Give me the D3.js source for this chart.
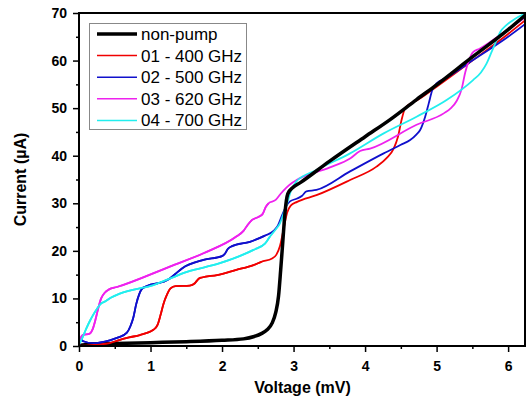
<!DOCTYPE html>
<html>
<head>
<meta charset="utf-8">
<script src="https://cdn.jsdelivr.net/npm/d3@7"></script>
<style>
  body { margin: 0; background: #fff; }
  svg { font-family: Arial, "Liberation Sans", sans-serif; }
</style>
</head>
<body>
<div id="chart"></div>
<script>
/* data: [voltage mV, current uA] */
var nonPump = [[0,0],[0.05,0.2],[0.2,0.4],[0.5,0.5],[1.0,0.7],[1.5,0.9],[2.0,1.2],[2.3,1.5],[2.45,2.0],[2.55,2.6],[2.63,3.4],[2.7,4.8],[2.75,7],[2.79,10.5],[2.82,16],[2.85,22],[2.88,28],[2.92,32],[2.99,33.3],[3.1,34.4],[3.5,38.8],[4.0,44],[4.35,47.6],[4.72,51.8],[5.0,54.9],[5.47,60.4],[6.0,66.5],[6.25,69.7]];
var ghz400 = [[0,0],[0.1,0.1],[0.25,0.3],[0.43,0.6],[0.55,1.2],[0.7,1.8],[0.85,2.3],[1.04,3.4],[1.1,4.5],[1.14,6.5],[1.18,8.8],[1.23,10.8],[1.28,12.1],[1.35,12.6],[1.55,12.7],[1.62,13.2],[1.67,14.1],[1.72,14.4],[1.93,14.9],[2.2,16],[2.44,17],[2.55,17.7],[2.7,18.4],[2.76,19.2],[2.81,21],[2.86,24.5],[2.91,28],[2.96,29.5],[3.05,30.3],[3.32,31.7],[3.79,34.9],[4.16,37.7],[4.3,39.5],[4.4,41.5],[4.46,44],[4.51,47.5],[4.56,50],[4.65,51.1],[4.72,51.6],[5.0,54.5],[5.5,60],[6.0,65.6],[6.25,68.6]];
var ghz500 = [[0,0.3],[0.02,1.4],[0.06,1.0],[0.2,0.6],[0.43,1.2],[0.55,1.8],[0.67,2.8],[0.72,4.2],[0.76,6.0],[0.8,8.8],[0.84,10.8],[0.88,12.0],[0.95,12.6],[1.18,13.5],[1.27,14.2],[1.35,15.2],[1.44,16.3],[1.74,18.1],[2.0,18.9],[2.04,19.4],[2.08,20.4],[2.14,21],[2.39,21.9],[2.6,23.2],[2.72,24.2],[2.78,25.3],[2.84,27.5],[2.9,29.5],[2.95,30.4],[3.05,31],[3.12,31.6],[3.18,32.5],[3.32,32.8],[3.79,36.7],[4.26,40.5],[4.5,42.3],[4.63,43.3],[4.72,44.5],[4.77,45.4],[4.84,48.2],[4.89,51],[4.94,53.8],[5.0,55.2],[5.14,56.4],[5.5,60],[6.0,65],[6.25,67.8]];
var ghz620 = [[0,0],[0.02,1.5],[0.05,2.3],[0.15,2.6],[0.19,3.5],[0.23,5.5],[0.27,8.0],[0.31,10.0],[0.36,11.2],[0.42,11.9],[0.53,12.4],[1.27,16.7],[1.74,19.5],[2.2,23],[2.3,24.2],[2.36,25.5],[2.42,26.5],[2.52,27.2],[2.57,27.8],[2.61,29.2],[2.65,30],[2.75,30.7],[2.82,32],[2.9,33.3],[3.0,34.5],[3.5,37.5],[3.79,39.4],[3.93,41],[4.07,41.5],[4.72,46.5],[5.1,48.9],[5.2,50],[5.28,51.5],[5.35,54],[5.4,57.5],[5.45,60],[5.51,61.8],[5.6,62.5],[6.0,66.6],[6.25,69.2]];
var ghz700 = [[0,0.3],[0.05,1.8],[0.1,3.6],[0.15,5.2],[0.2,6.6],[0.25,7.8],[0.3,8.8],[0.37,9.4],[0.45,10.2],[0.57,11.0],[1.04,12.8],[1.51,15.6],[1.97,17.4],[2.44,20.2],[2.6,21.5],[2.67,23],[2.75,24.5],[2.81,25.8],[2.86,27.8],[2.91,30],[2.96,32.5],[3.04,34.6],[3.32,37],[3.79,40.5],[4.26,44.7],[4.72,48.2],[5.14,51.7],[5.51,55.9],[5.62,57.5],[5.7,59.4],[5.76,61.5],[5.82,63.6],[5.89,66],[5.98,67.5],[6.1,68.8],[6.25,70]];

var seriesNames = ["non-pump", "01 - 400 GHz", "02 - 500 GHz", "03 - 620 GHz", "04 - 700 GHz"];
var seriesData = [nonPump, ghz400, ghz500, ghz620, ghz700];
var seriesColors = ["#000000", "#f00000", "#1010cc", "#ee22ee", "#22eeee"];
var xTicks = [0, 1, 2, 3, 4, 5, 6];
var yTicks = [0, 10, 20, 30, 40, 50, 60, 70];

var width = 527, height = 404;
var margin = { left: 79, right: 1, top: 13, bottom: 58 };

var svg = d3.select("#chart").append("svg")
    .attr("width", width)
    .attr("height", height);

var x = d3.scaleLinear().domain([0, 6.25]).range([margin.left, width - margin.right]);
var y = d3.scaleLinear().domain([0, 70]).range([height - margin.bottom, margin.top]);

/* minor ticks */
svg.append("g")
    .attr("transform", "translate(0," + (height - margin.bottom) + ")")
    .call(d3.axisBottom(x).tickValues(d3.range(0.5, 6.25, 1)).tickSize(3).tickFormat(""))
    .call(function(g) { g.select(".domain").remove(); })
    .selectAll("line").attr("stroke-width", 1.5);
svg.append("g")
    .attr("transform", "translate(" + margin.left + ",0)")
    .call(d3.axisLeft(y).tickValues(d3.range(5, 70, 10)).tickSize(3).tickFormat(""))
    .call(function(g) { g.select(".domain").remove(); })
    .selectAll("line").attr("stroke-width", 1.5);

/* major ticks */
var xAxis = svg.append("g")
    .attr("transform", "translate(0," + (height - margin.bottom) + ")")
    .call(d3.axisBottom(x).tickValues(xTicks).tickSize(6).tickPadding(9).tickFormat(d3.format("d")));
var yAxis = svg.append("g")
    .attr("transform", "translate(" + margin.left + ",0)")
    .call(d3.axisLeft(y).tickValues(yTicks).tickSize(6).tickPadding(6).tickFormat(d3.format("d")));
[xAxis, yAxis].forEach(function(g) {
    g.select(".domain").remove();
    g.selectAll("line").attr("stroke-width", 1.5);
    g.selectAll("text")
        .style("font-size", "14px")
        .style("font-weight", "bold")
        .attr("fill", "#000");
});

/* curves */
var line = d3.line()
    .x(function(d) { return x(d[0]); })
    .y(function(d) { return y(d[1]); })
    .curve(d3.curveMonotoneX);

var order = [1, 2, 3, 4, 0];
svg.append("defs").append("clipPath").attr("id", "clip")
    .append("rect")
    .attr("x", margin.left).attr("y", margin.top)
    .attr("width", width - margin.left - margin.right)
    .attr("height", height - margin.top - margin.bottom);

var curves = svg.append("g").attr("clip-path", "url(#clip)");
order.forEach(function(i) {
    curves.append("path")
        .datum(seriesData[i])
        .attr("fill", "none")
        .attr("stroke", seriesColors[i])
        .attr("stroke-width", i == 0 ? 3.5 : 1.8)
        .attr("stroke-linejoin", "round")
        .attr("d", line);
});
// colored lines go back over the black one in the low part
order.slice(0, 4).forEach(function(i) {
    curves.append("path")
        .datum(seriesData[i].filter(function(d) { return d[0] < 2.7; }))
        .attr("fill", "none")
        .attr("stroke", seriesColors[i])
        .attr("stroke-width", 1.8)
        .attr("d", line);
});

/* frame */
svg.append("rect")
    .attr("x", margin.left)
    .attr("y", margin.top)
    .attr("width", width - margin.left - margin.right - 1)
    .attr("height", height - margin.top - margin.bottom)
    .attr("fill", "none")
    .attr("stroke", "#000")
    .attr("stroke-width", 2);

/* axis titles */
svg.append("text")
    .attr("x", (x(0) + x(6.25)) / 2)
    .attr("y", 393)
    .attr("text-anchor", "middle")
    .style("font-size", "16px")
    .style("font-weight", "bold")
    .text("Voltage (mV)");
svg.append("text")
    .attr("transform", "translate(26," + (y(0) + y(70)) / 2 + ")rotate(-90)")
    .attr("text-anchor", "middle")
    .style("font-size", "16px")
    .style("font-weight", "bold")
    .text("Current (\u00b5A)");

/* legend */
var legend = svg.append("g");
legend.append("rect")
    .attr("x", 89.5).attr("y", 23.5)
    .attr("width", 157).attr("height", 106)
    .attr("fill", "#fff")
    .attr("stroke", "#888")
    .attr("stroke-width", 1);
seriesNames.forEach(function(name, i) {
    var ly = 34 + i * 21.6;
    legend.append("line")
        .attr("x1", 97).attr("x2", 137)
        .attr("y1", ly).attr("y2", ly)
        .attr("stroke", seriesColors[i])
        .attr("stroke-width", i == 0 ? 3.5 : 1.5);
    legend.append("text")
        .attr("x", 141).attr("y", ly)
        .attr("dy", "0.35em")
        .style("font-size", "17px")
        .text(name);
});
</script>
</body>
</html>
